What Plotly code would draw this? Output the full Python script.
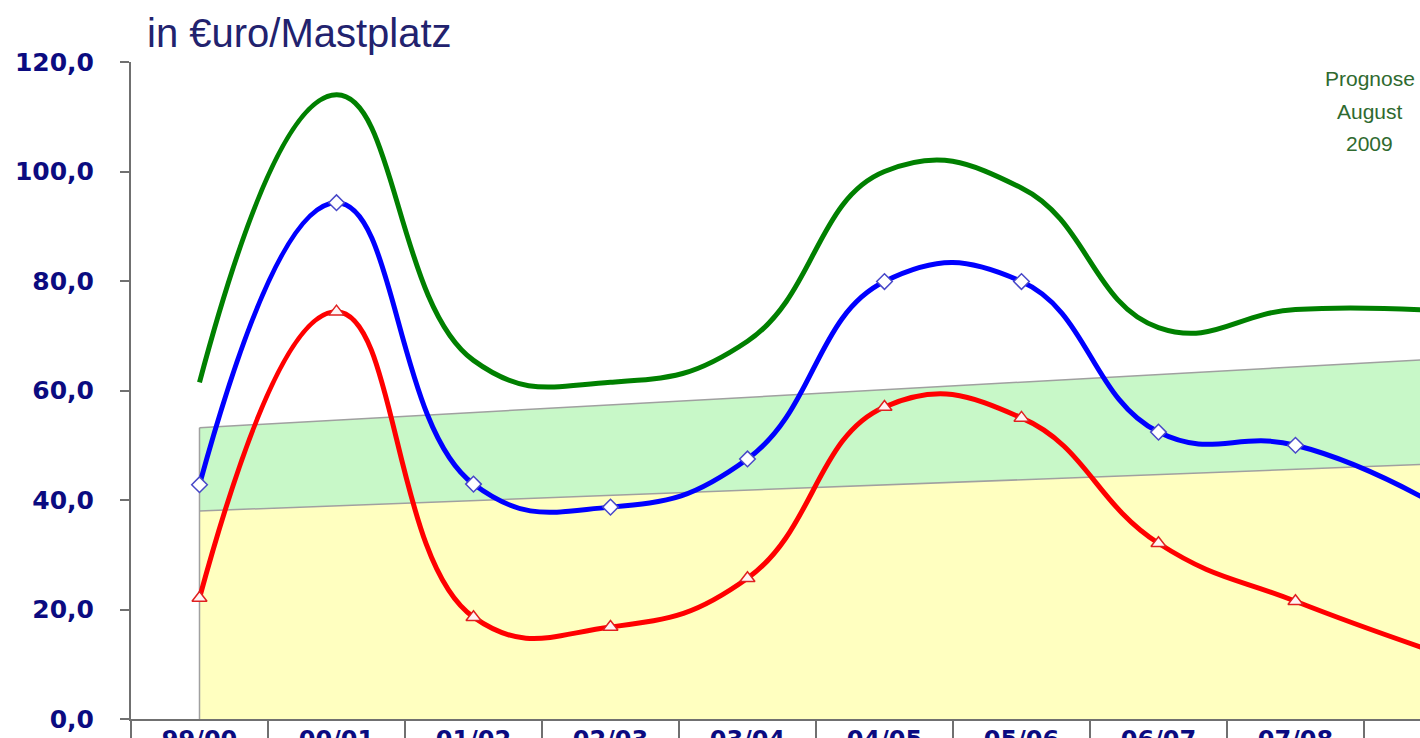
import plotly.graph_objects as go

categories = ["99/00", "00/01", "01/02", "02/03", "03/04", "04/05", "05/06", "06/07", "07/08", "08/09"]
green_vals = [61.5, 114.0, 65.5, 61.5, 69.0, 100.0, 97.0, 71.5, 74.8, 74.6]
blue_vals = [42.8, 94.3, 42.9, 38.7, 47.5, 79.9, 79.9, 52.4, 50.0, 39.5]
red_vals = [22.1, 74.4, 18.6, 16.8, 25.7, 57.0, 55.0, 32.1, 21.5, 12.4]
band_lower = [38.0, 38.95, 39.9, 40.85, 41.8, 42.75, 43.7, 44.65, 45.6, 46.55]
band_upper = [53.2, 54.6, 56.0, 57.4, 58.8, 60.2, 61.5, 62.9, 64.3, 65.7]
y_ticks = [0, 20, 40, 60, 80, 100, 120]

NAVY = "#0b0b80"
GRAY = "#a0a0a0"
SMOOTH = 1.3
LW = 5

fig = go.Figure()

# stacked bands
fig.add_trace(go.Scatter(x=categories, y=band_lower, mode="lines", fill="tozeroy",
                         fillcolor="#ffffc0", line=dict(color=GRAY, width=1.5),
                         hoverinfo="skip", showlegend=False))
fig.add_trace(go.Scatter(x=categories, y=band_upper, mode="lines", fill="tonexty",
                         fillcolor="#c8f8c8", line=dict(color=GRAY, width=1.5),
                         hoverinfo="skip", showlegend=False))
fig.add_trace(go.Scatter(x=[categories[0], categories[0]], y=[0, band_upper[0]], mode="lines",
                         line=dict(color=GRAY, width=1.5), hoverinfo="skip", showlegend=False))

fig.add_trace(go.Scatter(x=categories, y=green_vals, mode="lines",
                         line=dict(color="#008000", width=LW, shape="spline", smoothing=SMOOTH),
                         showlegend=False))
fig.add_trace(go.Scatter(x=categories, y=blue_vals, mode="lines",
                         line=dict(color="#0000ff", width=LW, shape="spline", smoothing=SMOOTH),
                         showlegend=False))
fig.add_trace(go.Scatter(x=categories[:9], y=blue_vals[:9], mode="markers",
                         marker=dict(symbol="diamond", size=12, color="white",
                                     line=dict(color="#4848c8", width=1.5)),
                         showlegend=False, hoverinfo="skip"))
fig.add_trace(go.Scatter(x=categories, y=red_vals, mode="lines",
                         line=dict(color="#ff0000", width=LW, shape="spline", smoothing=SMOOTH),
                         showlegend=False))
fig.add_trace(go.Scatter(x=categories[:9], y=red_vals[:9], mode="markers",
                         marker=dict(symbol="triangle-up", size=13, color="#fff4f4",
                                     line=dict(color="#e02020", width=1.5)),
                         showlegend=False, hoverinfo="skip"))

fig.update_layout(
    width=1420, height=738,
    margin=dict(l=131, r=0, t=62, b=19, autoexpand=False),
    plot_bgcolor="white", paper_bgcolor="white",
    separators=",.",
    showlegend=False,
    xaxis=dict(type="category", range=[-0.5, 8.909], showgrid=False, zeroline=False,
               showline=True, linecolor="#707070", linewidth=2,
               ticks="outside", ticklen=25, tickwidth=2, tickcolor="#707070",
               tickson="boundaries", automargin=False, ticklabelstandoff=-2,
               tickfont=dict(family="DejaVu Sans", size=24, color=NAVY, weight="bold")),
    yaxis=dict(range=[0, 120], tickvals=y_ticks, tickformat=".1f", showgrid=False,
               zeroline=False, showline=True, linecolor="#707070", linewidth=2,
               ticks="outside", ticklen=9, tickwidth=2, tickcolor="#707070",
               automargin=False, ticklabelstandoff=21,
               tickfont=dict(family="DejaVu Sans", size=25, color=NAVY, weight="bold")),
    annotations=[
        dict(text="in €uro/Mastplatz", xref="paper", yref="paper", x=0.0109, y=1.044,
             xanchor="left", yanchor="middle", showarrow=False,
             font=dict(family="Liberation Sans", size=40, color="#22226e")),
        dict(text="Prognose", xref="paper", yref="paper", x=0.961, y=0.9756,
             xanchor="center", yanchor="middle", showarrow=False,
             font=dict(family="Liberation Sans", size=21, color="#2f6a2f")),
        dict(text="August", xref="paper", yref="paper", x=0.961, y=0.9254,
             xanchor="center", yanchor="middle", showarrow=False,
             font=dict(family="Liberation Sans", size=21, color="#2f6a2f")),
        dict(text="2009", xref="paper", yref="paper", x=0.961, y=0.8767,
             xanchor="center", yanchor="middle", showarrow=False,
             font=dict(family="Liberation Sans", size=21, color="#2f6a2f")),
    ],
)

fig.write_html(
    "out.html",
    config={"displayModeBar": False},
    post_script="document.body.style.margin='0';document.body.style.overflow='hidden';",
)
